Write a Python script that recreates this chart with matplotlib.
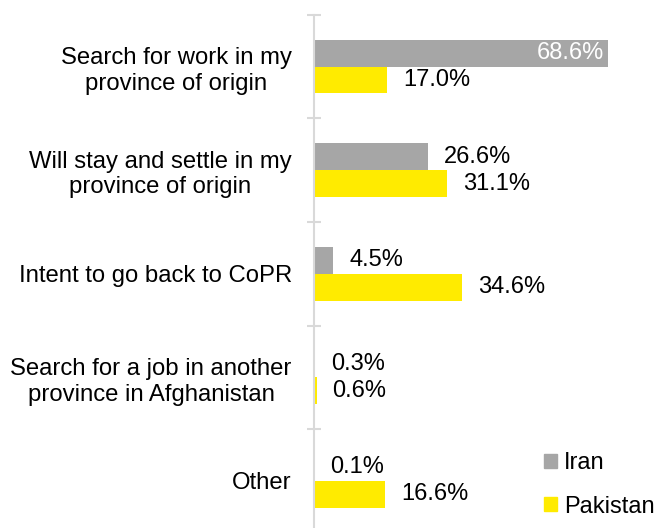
import numpy as np
import matplotlib.pyplot as plt
from matplotlib.patches import Patch
from matplotlib.ticker import FixedLocator

# Data (top to bottom)
categories = ['Search for work in my\nprovince of origin',
              'Will stay and settle in my\nprovince of origin',
              'Intent to go back to CoPR',
              'Search for a job in another\nprovince in Afghanistan',
              'Other']
iran = [68.6, 26.6, 4.5, 0.3, 0.1]
pakistan = [17.0, 31.1, 34.6, 0.6, 16.6]

grey = '#A6A6A6'
yellow = '#FFEB00'
axis_col = '#D9D9D9'

plt.rcParams['font.family'] = ['Liberation Sans', 'DejaVu Sans']
fs = 17
fs_cat = 17.2

fig = plt.figure(figsize=(6.57, 5.28), dpi=100)
ax = fig.add_axes([314 / 657, -4.7 / 528, 343 / 657, 518 / 528])

y = np.arange(len(categories))
h = 0.26

# Bars
ax.barh(y - h / 2, iran, height=h, color=grey, label='Iran')
ax.barh(y + h / 2, pakistan, height=h, color=yellow, label='Pakistan')

ax.set_xlim(0, 80)
ax.set_ylim(len(categories) - 0.5, -0.5)

# Value labels
for i in range(len(categories)):
    if iran[i] > 50:
        ax.annotate(f'{iran[i]:.1f}%', (iran[i], y[i] - h / 2), xytext=(-3, 0),
                    textcoords='offset points', ha='right', va='center',
                    color='white', fontsize=fs)
    else:
        ax.annotate(f'{iran[i]:.1f}%', (iran[i], y[i] - h / 2), xytext=(11.5, 0),
                    textcoords='offset points', ha='left', va='center',
                    color='black', fontsize=fs)
    ax.annotate(f'{pakistan[i]:.1f}%', (pakistan[i], y[i] + h / 2), xytext=(11.5, 0),
                textcoords='offset points', ha='left', va='center',
                color='black', fontsize=fs)

# Axis styling
for s in ['top', 'right', 'bottom']:
    ax.spines[s].set_visible(False)
ax.spines['left'].set_color(axis_col)
ax.spines['left'].set_linewidth(1.5)
ax.set_xticks([])

ax.set_yticks(y)
ax.set_yticklabels(categories, fontsize=fs_cat, multialignment='center', linespacing=1.22)
ax.tick_params(axis='y', which='major', length=0, pad=16)
ax.yaxis.set_minor_locator(FixedLocator(np.arange(-0.5, len(categories), 1)))
ax.tick_params(axis='y', which='minor', direction='inout', length=10, width=1.5, color=axis_col)

# Legend
handles = [Patch(color=grey, label='Iran'), Patch(color=yellow, label='Pakistan')]
fig.legend(handles=handles, loc='center left', bbox_to_anchor=(544 / 657, 1 - 485 / 528),
           frameon=False, fontsize=fs, handlelength=0.55, handleheight=0.55,
           handletextpad=0.3, labelspacing=0.9, borderpad=0, borderaxespad=0)

fig.savefig('out.png', dpi=100)
